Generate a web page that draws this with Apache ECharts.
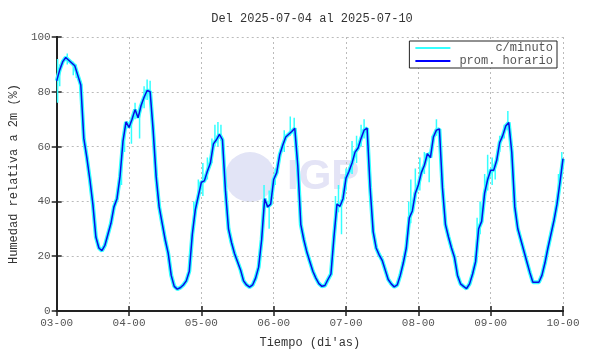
<!DOCTYPE html>
<html>
<head>
<meta charset="utf-8">
<script src="https://cdn.jsdelivr.net/npm/echarts@6/dist/echarts.min.js"></script>
<style>
  html, body { margin: 0; padding: 0; background: #fff; }
  #chart { width: 590px; height: 354px; }
</style>
</head>
<body>
<div id="chart"></div>
<script>
// eje x: horas desde 03-00, una etiqueta por dia
var dayLabels = ['03-00', '04-00', '05-00', '06-00', '07-00', '08-00', '09-00', '10-00'];

// prom. horario (%), una muestra por hora, h0..h168
var hourly = [
  84, 88, 91, 92.5, 91.5, 90.5, 89.5, 86, 82.5, 63, 56, 48, 39, 27, 23, 22, 24, 28, 32, 38, 41, 49, 62, 69,
  67, 70, 73.5, 70.5, 75, 78, 80.5, 80, 66, 49, 38, 32, 26, 21, 13, 9, 8, 8.5, 9.5, 11, 14.5, 28, 37, 42,
  47, 47.5, 51, 54, 61, 62.5, 64.5, 62.5, 44, 30, 25, 21, 18, 15, 11, 9.5, 8.7, 9.5, 12, 16, 26, 41, 38, 39,
  48, 50.5, 57, 60.5, 63.5, 64.5, 65.5, 66.7, 53, 31.5, 26, 21.5, 18, 14.5, 12, 10, 9, 9.3, 11.5, 13.5, 27, 39, 38.2, 41,
  48.5, 51, 54, 58, 59.5, 63, 66, 66.7, 45, 29, 23, 20.5, 18.5, 15, 11.5, 9.9, 8.8, 9.5, 13, 17.5, 23, 34, 36.5, 43,
  46, 50.5, 53.2, 57.4, 56, 63.5, 66, 66.4, 45, 31.5, 27, 23, 19.5, 13, 9.9, 9, 8.2, 9.9, 13.5, 18, 30, 32.7, 43, 48,
  51.4, 51.4, 55, 61.5, 64, 67.5, 68.8, 58, 38, 30, 26, 22, 18, 14, 10.5, 10.5, 10.5, 13, 17.5, 23, 28, 33, 39, 47,
  55.6
];

// c/minuto: picos visibles alrededor del promedio [hora, min, max]
var minuteSpikes = [
  [0.3, 76, 92], [1.0, 82, 90], [3.5, 90, 94], [5.5, 86, 91], [6.5, 85, 90], [8.0, 79, 84],
  [21.5, 46, 56], [22.5, 58, 66], [24.8, 61, 70], [26, 70, 76], [27.5, 63, 75], [29, 74, 82], [30, 77, 84.5], [31, 77, 84],
  [45.5, 30, 40], [47, 40, 48], [48.5, 42, 54], [50, 48, 56], [51.5, 54, 63], [52.5, 60, 68], [53.5, 60, 69], [54.5, 62, 68],
  [68.8, 38, 46], [70.5, 30, 44], [72.5, 46, 52], [75.5, 58, 66], [77.5, 64, 71], [78.8, 64, 70.5],
  [92.5, 30, 42], [93.5, 36, 46], [94.5, 28, 40], [96, 44, 52], [98, 50, 62], [99.5, 54, 64], [101, 60, 68], [102, 63, 70],
  [116.8, 28, 40], [117.5, 32, 48], [119, 42, 52], [120.5, 44, 56], [122, 50, 58], [123.6, 47, 58], [124.6, 58, 64], [126, 64, 70],
  [139.5, 24, 34], [140.5, 28, 40], [142, 42, 50], [143, 44, 57], [144.5, 46, 56], [145.5, 48, 54], [147, 58, 64], [148.5, 63, 68], [149.7, 66, 73],
  [166.5, 40, 50], [167.6, 50, 58]
];

var mono = '"Liberation Mono", "DejaVu Sans Mono", monospace';

var hourlyData = hourly.map(function (v, i) { return [i, v]; });
var spikeData = [];
minuteSpikes.forEach(function (s) {
  spikeData.push([s[0], s[1]], [s[0], s[2]], [s[0], '-']);
});

var chart = echarts.init(document.getElementById('chart'), null, { renderer: 'canvas' });

var axisLine = { show: true, lineStyle: { color: '#222', width: 2 } };
var tick = { show: true, inside: true, length: 5, lineStyle: { color: '#222', width: 1.5 } };
var dotted = { show: true, lineStyle: { color: '#bbb', type: [2, 3], width: 1 } };

var option = {
  animation: false,
  backgroundColor: '#fff',
  title: {
    text: 'Del 2025-07-04 al 2025-07-10',
    left: 307, top: 8, textAlign: 'center',
    textStyle: { fontFamily: mono, fontSize: 12, fontWeight: 'normal', color: '#333' }
  },
  grid: { left: 51, right: 27, top: 37, bottom: 40 },
  legend: {
    right: 33, top: 41,
    orient: 'vertical',
    itemGap: 1, itemWidth: 35, itemHeight: 2,
    padding: [1, 4, 1, 6],
    borderColor: '#222', borderWidth: 1,
    backgroundColor: '#fff',
    icon: 'rect',
    data: ['c/minuto', 'prom. horario'],
    formatter: function (name) { return name.padStart(13, ' '); },
    textStyle: { fontFamily: mono, fontSize: 12, color: '#555', lineHeight: 12, padding: [0, 0, 0, 4] }
  },
  graphic: [
    { type: 'circle', z: -10, shape: { cx: 250, cy: 177, r: 25 }, style: { fill: '#e2e4f6' } },
    { type: 'text', z: -10, left: 287, top: 156,
      style: { text: 'IGP', fill: '#e4e4f6', font: 'bold 42px "Liberation Sans", Arial, sans-serif' } }
  ],
  xAxis: [{
    type: 'value', min: 0, max: 168, interval: 24,
    name: "Tiempo (di'as)", nameLocation: 'middle', nameGap: 26,
    nameTextStyle: { fontFamily: mono, fontSize: 12, color: '#333' },
    axisLine: axisLine, axisTick: tick, splitLine: dotted,
    axisLabel: {
      margin: 7, fontFamily: mono, fontSize: 11, color: '#555',
      formatter: function (v) { return dayLabels[Math.round(v / 24)]; }
    }
  }, {
    type: 'value', position: 'top', min: 0, max: 168, interval: 24,
    axisLine: axisLine, axisTick: tick, splitLine: { show: false }, axisLabel: { show: false }
  }],
  yAxis: [{
    type: 'value', min: 0, max: 100, interval: 20,
    name: 'Humedad relativa a 2m (%)', nameLocation: 'middle', nameGap: 34,
    nameTextStyle: { fontFamily: mono, fontSize: 12, color: '#333' },
    axisLine: axisLine, axisTick: tick, splitLine: dotted,
    axisLabel: { margin: 6, fontFamily: mono, fontSize: 11, color: '#555' }
  }, {
    type: 'value', position: 'right', min: 0, max: 100, interval: 20,
    axisLine: axisLine, axisTick: tick, splitLine: { show: false }, axisLabel: { show: false }
  }],
  series: [{
    name: 'c/minuto', type: 'line', data: hourlyData, showSymbol: false, z: 2,
    color: '#33ffff', lineStyle: { color: '#33ffff', width: 4 }
  }, {
    name: 'c/minuto', type: 'line', data: spikeData, showSymbol: false, z: 2,
    connectNulls: false,
    color: '#33ffff', lineStyle: { color: '#33ffff', width: 1.5 }
  }, {
    name: 'prom. horario', type: 'line', data: hourlyData, showSymbol: false, z: 3,
    color: '#0000ff', lineStyle: { color: '#0a0ae6', width: 1.5 }
  }]
};

chart.setOption(option);
</script>
</body>
</html>
